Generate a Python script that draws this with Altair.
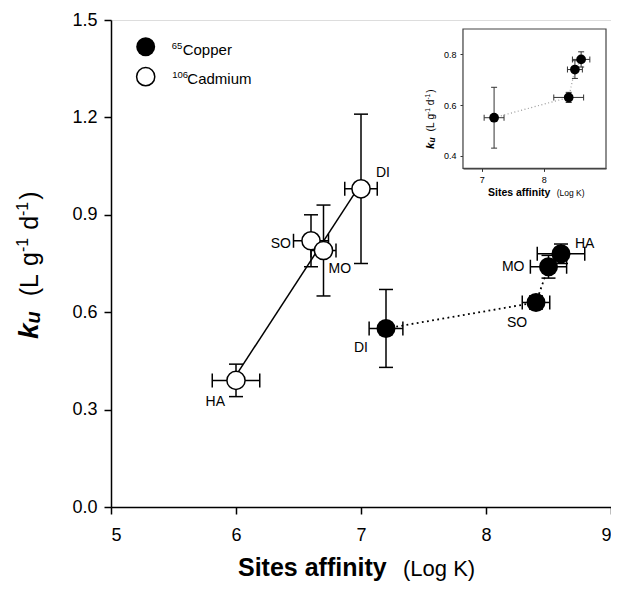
import altair as alt
import pandas as pd

# ---------------- data ----------------
cu_sites = ["DI", "SO", "MO", "HA"]
cu_x = [7.2, 8.4, 8.5, 8.6]
cu_y = [0.55, 0.63, 0.74, 0.78]
cu_xerr = [0.135, 0.11, 0.145, 0.19]
cu_yerr = [0.12, 0.02, 0.035, 0.03]

cd_sites = ["HA", "SO", "MO", "DI"]
cd_x = [6.0, 6.6, 6.7, 7.0]
cd_y = [0.39, 0.82, 0.79, 0.98]
cd_xerr = [0.19, 0.14, 0.10, 0.13]
cd_yerr = [0.05, 0.08, 0.14, 0.23]

inset_xerr = [0.16, 0.24, 0.12, 0.14]
inset_yerr = [0.12, 0.02, 0.035, 0.03]

x_ticks = [5, 6, 7, 8, 9]
y_ticks = [0.0, 0.3, 0.6, 0.9, 1.2, 1.5]
inset_x_ticks = [7, 8]
inset_y_ticks = [0.4, 0.6, 0.8]


def frame(sites, xs, ys, xe, ye):
    return pd.DataFrame({
        "site": sites, "x": xs, "y": ys,
        "xlo": [a - b for a, b in zip(xs, xe)], "xhi": [a + b for a, b in zip(xs, xe)],
        "ylo": [a - b for a, b in zip(ys, ye)], "yhi": [a + b for a, b in zip(ys, ye)],
        "order": list(range(len(xs))),
    })


cu = frame(cu_sites, cu_x, cu_y, cu_xerr, cu_yerr)
cd = frame(cd_sites, cd_x, cd_y, cd_xerr, cd_yerr)
ins = frame(cu_sites, cu_x, cu_y, inset_xerr, inset_yerr)
one = pd.DataFrame({"k": [0]})

FONT = "Liberation Sans"
W, H = 500, 487

# ---------------- main scales / axes ----------------
xs = alt.Scale(domain=[5, 9], nice=False, zero=False)
ys = alt.Scale(domain=[0, 1.5], nice=False, zero=False)
xa = alt.Axis(values=x_ticks, title=None, grid=False, tickSize=7, tickWidth=1.5,
              domainWidth=1.5, domainColor="black", tickColor="black",
              labelFontSize=18, labelFont=FONT, labelColor="black", labelPadding=12, format="d")
ya = alt.Axis(values=y_ticks, title=None, grid=False, tickSize=7, tickWidth=1.5,
              domainWidth=1.5, domainColor="black", tickColor="black",
              labelFontSize=18, labelFont=FONT, labelColor="black", labelPadding=7, format=".1f")


def X(f):
    return alt.X(f, type="quantitative", scale=xs, axis=xa)


def Y(f):
    return alt.Y(f, type="quantitative", scale=ys, axis=ya)


def errorbars(df, cap, sw, color, Xf, Yf):
    b = alt.Chart(df)
    return [
        b.mark_rule(color=color, strokeWidth=sw).encode(x=Xf("x"), y=Yf("ylo"), y2="yhi"),
        b.mark_rule(color=color, strokeWidth=sw).encode(y=Yf("y"), x=Xf("xlo"), x2="xhi"),
        b.mark_tick(orient="horizontal", size=cap, thickness=sw, color=color, opacity=1).encode(x=Xf("x"), y=Yf("ylo")),
        b.mark_tick(orient="horizontal", size=cap, thickness=sw, color=color, opacity=1).encode(x=Xf("x"), y=Yf("yhi")),
        b.mark_tick(orient="vertical", size=cap, thickness=sw, color=color, opacity=1).encode(x=Xf("xlo"), y=Yf("y")),
        b.mark_tick(orient="vertical", size=cap, thickness=sw, color=color, opacity=1).encode(x=Xf("xhi"), y=Yf("y")),
    ]


main_layers = []
main_layers += errorbars(cd, 14, 1.5, "black", X, Y)
main_layers += errorbars(cu, 14, 1.5, "black", X, Y)

# lines
main_layers.append(
    alt.Chart(cd).transform_regression("x", "y", extent=[6.0, 7.0])
    .mark_line(color="black", strokeWidth=1.5).encode(x=X("x"), y=Y("y"))
)
main_layers.append(
    alt.Chart(cu).mark_line(color="black", strokeWidth=1.8, strokeDash=[1.8, 3.4])
    .encode(x=X("x"), y=Y("y"), order="order:Q")
)

# points
main_layers.append(
    alt.Chart(cd).mark_point(shape="circle", filled=True, fill="white", stroke="black",
                             strokeWidth=1.5, size=330, opacity=1).encode(x=X("x"), y=Y("y"))
)
main_layers.append(
    alt.Chart(cu).mark_point(shape="circle", filled=True, color="black", size=360, opacity=1)
    .encode(x=X("x"), y=Y("y"))
)

# point labels: (dataset, site) -> align, dx, dy
label_style = {
    ("cd", "HA"): ("right", -11, 26), ("cd", "SO"): ("right", -20, 7),
    ("cd", "MO"): ("left", 5, 22), ("cd", "DI"): ("left", 15, -12),
    ("cu", "DI"): ("right", -18, 24), ("cu", "SO"): ("left", -29, 25),
    ("cu", "MO"): ("right", -24, 4), ("cu", "HA"): ("left", 14, -6),
}
for (ds, site), (al, dx, dy) in label_style.items():
    df = cd if ds == "cd" else cu
    main_layers.append(
        alt.Chart(df).transform_filter(alt.datum.site == site)
        .mark_text(align=al, baseline="alphabetic", dx=dx, dy=dy, fontSize=14, font=FONT, color="black")
        .encode(x=X("x"), y=Y("y"), text="site:N")
    )


def txt(text, x, y, size, weight="normal", style="normal", angle=0, align="left"):
    kw = dict(text=text, fontSize=size, font=FONT, fontWeight=weight, fontStyle=style,
              align=align, baseline="alphabetic", color="black")
    if angle:
        kw["angle"] = angle
    return alt.Chart(one).mark_text(**kw).encode(x=alt.value(x), y=alt.value(y))


# legend
main_layers.append(alt.Chart(one).mark_point(shape="circle", filled=True, color="black", size=360, opacity=1)
                   .encode(x=alt.value(34.7), y=alt.value(26.7)))
main_layers.append(alt.Chart(one).mark_point(shape="circle", filled=True, fill="white", stroke="black",
                                             strokeWidth=1.5, size=330, opacity=1)
                   .encode(x=alt.value(34.7), y=alt.value(56.7)))
main_layers.append(txt("65", 60.7, 28.5, 9.5))
main_layers.append(txt("Copper", 71.7, 35, 15))
main_layers.append(txt("106", 61.3, 58.3, 9.5))
main_layers.append(txt("Cadmium", 76.3, 64.3, 15))

# x title
main_layers.append(txt("Sites affinity", 127, 556, 25, weight="bold"))
main_layers.append(txt("(Log K)", 292, 556, 22))

# rotated y titles built from pieces
WREG = {"(": .333, ")": .333, "L": .556, "g": .556, "d": .556, " ": .278, "-": .333, "1": .556}
WBI = {"k": .556, "u": .611}


def rot_title(pieces, bx, y0):
    out = []
    y = y0
    for text, size, bold, shift, gap in pieces:
        tbl = WBI if bold else WREG
        out.append(txt(text, bx + shift, y, size,
                       weight="bold" if bold else "normal",
                       style="italic" if bold else "normal", angle=270))
        y -= sum(tbl.get(c, .556) for c in text) * size + gap
    return out


main_layers += rot_title([("k", 28, True, 0, 0), ("u", 20, True, 2, 15),
                          ("(L", 25, False, 0, 8), ("g", 25, False, 0, 0), ("-1", 16, False, -10, 8),
                          ("d", 25, False, 0, 0), ("-1", 16, False, -10, 2),
                          (")", 25, False, 0, 0)], -73, 319)

# inset frame + inset titles
main_layers.append(alt.Chart(one).mark_rect(fill="white", stroke="#444", strokeWidth=1.2)
                   .encode(x=alt.value(352), x2=alt.value(495), y=alt.value(9), y2=alt.value(148.4)))
main_layers.append(txt("Sites affinity", 377, 176, 10.5, weight="bold"))
main_layers.append(txt("(Log K)", 445.7, 176, 8.5))
main_layers += rot_title([("k", 11.5, True, 0, 0), ("u", 8.5, True, 1, 6),
                          ("(L", 10, False, 0, 3), ("g", 10, False, 0, 0), ("-1", 6.5, False, -4, 3),
                          ("d", 10, False, 0, 0), ("-1", 6.5, False, -4, 1),
                          (")", 10, False, 0, 0)], 323, 129)

main = alt.layer(*main_layers)

# ---------------- inset ----------------
ixs = alt.Scale(domain=[6.7, 9.0], range=[352, 495], nice=False, zero=False)
iys = alt.Scale(domain=[0.35, 0.9], range=[148.4, 9], nice=False, zero=False)
ixa = alt.Axis(orient="bottom", offset=-(H - 148.4), values=inset_x_ticks, title=None, grid=False,
               tickSize=3, tickColor="#333", domainColor="#333", domainWidth=1.2,
               labelFontSize=9, labelFont=FONT, labelColor="black", labelPadding=4, format="d")
iya = alt.Axis(orient="left", offset=-352, values=inset_y_ticks, title=None, grid=False,
               tickSize=3, tickColor="#333", domainColor="#333", domainWidth=1.2,
               labelFontSize=9, labelFont=FONT, labelColor="black", labelPadding=4, format=".1f")


def IX(f):
    return alt.X(f, type="quantitative", scale=ixs, axis=ixa)


def IY(f):
    return alt.Y(f, type="quantitative", scale=iys, axis=iya)


inset_layers = errorbars(ins, 6, 1.0, "#333", IX, IY)
inset_layers.append(alt.Chart(ins).mark_line(color="#999", strokeWidth=1.2, strokeDash=[1, 2.5])
                    .encode(x=IX("x"), y=IY("y"), order="order:Q"))
inset_layers.append(alt.Chart(ins).mark_point(shape="circle", filled=True, color="black", size=95, opacity=1)
                    .encode(x=IX("x"), y=IY("y")))
inset = alt.layer(*inset_layers)

chart = (
    alt.layer(main, inset)
    .resolve_scale(x="independent", y="independent")
    .resolve_axis(x="independent", y="independent")
    .properties(width=W, height=H, autosize=alt.AutoSizeParams(type="none"),
                padding={"left": 103, "top": 12, "right": 0, "bottom": 77})
    .configure_view(stroke="black", strokeWidth=1.5)
    .configure(background="white")
)

chart.save("out.html", embed_options={"renderer": "svg", "actions": False})
